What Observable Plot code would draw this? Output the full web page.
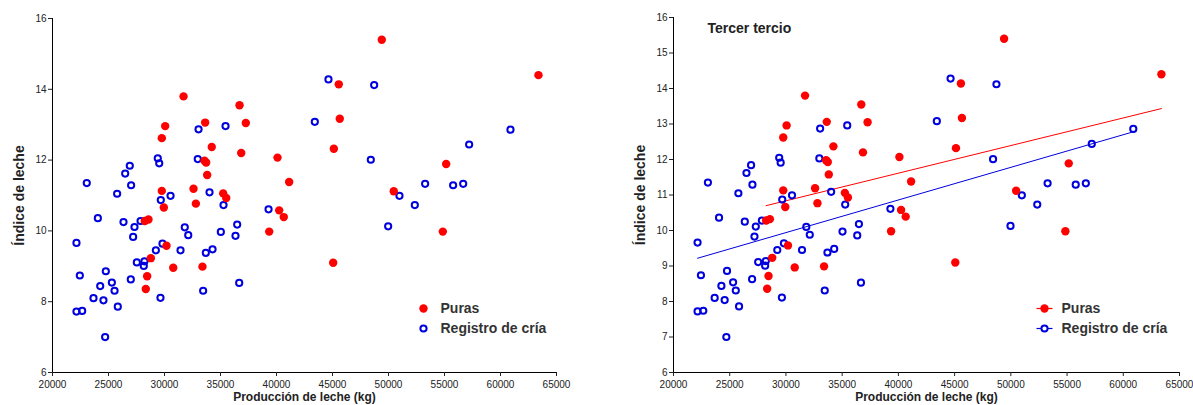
<!DOCTYPE html>
<html>
<head>
<meta charset="utf-8">
<script src="https://cdn.jsdelivr.net/npm/d3@7"></script>
<script src="https://cdn.jsdelivr.net/npm/@observablehq/plot@0.6"></script>
<style>
  html, body { margin: 0; padding: 0; background: #fff; }
  #wrap { display: flex; width: 1193px; height: 405px; }
</style>
</head>
<body>
<div id="wrap"></div>
<script>
// ---- Data ----
const purasX = [31700, 36700, 33630, 37260, 30060, 29760, 34220, 36850, 40090, 33570,
  33720, 33810, 41130, 29760, 32590, 35240, 35510, 49400, 45560, 45650,
  45120, 63390, 55150, 50470, 54850, 45060, 32800, 29940, 28240, 28570,
  30180, 28780, 30780, 33390, 28450, 28330, 39350, 40240, 40650];
const purasY = [13.80, 13.55, 13.06, 13.05, 12.96, 12.62, 12.37, 12.20, 12.07, 11.98,
  11.93, 11.58, 11.38, 11.13, 11.19, 11.06, 10.93, 15.40, 14.14, 13.17,
  12.32, 14.40, 11.89, 11.12, 9.98, 9.10, 10.77, 10.66, 10.28, 10.32,
  9.58, 9.23, 8.96, 8.99, 8.72, 8.36, 9.98, 10.58, 10.39];

const registroX = [33040, 35450, 29400, 29530, 32970, 26900, 26490, 27020, 23060, 25770,
  34020, 30540, 29670, 44640, 48720, 43420, 48420, 60890, 57200, 53270,
  55770, 56670, 50980, 52350, 49970, 39290, 35270, 24050, 26340, 27320,
  27200, 27860, 31810, 32120, 35030, 36490, 36340, 22140, 29820, 29230,
  31430, 33690, 34290, 27530, 28210, 28150, 22440, 24760, 24260, 25300,
  25540, 26990, 36670, 23660, 24550, 29640, 33450, 25830, 22140, 22650, 24700];
const registroY = [12.87, 12.96, 12.05, 11.91, 12.03, 11.84, 11.62, 11.29, 11.35, 11.05,
  11.09, 10.99, 10.87, 14.28, 14.12, 13.08, 12.01, 12.86, 12.44, 11.33,
  11.29, 11.33, 10.99, 10.73, 10.13, 10.61, 10.73, 10.36, 10.25, 10.11,
  9.83, 10.28, 10.10, 9.88, 9.97, 10.18, 9.86, 9.66, 9.64, 9.45,
  9.45, 9.38, 9.48, 9.11, 9.14, 9.01, 8.74, 8.86, 8.44, 8.54,
  8.31, 8.63, 8.53, 8.10, 8.04, 8.11, 8.31, 7.86, 7.72, 7.74, 7.00];

const seriesNames = ["Puras", "Registro de cría"];
const xTicks = [20000, 25000, 30000, 35000, 40000, 45000, 50000, 55000, 60000, 65000];
const yTicksLeft = [6, 8, 10, 12, 14, 16];
const yTicksRight = [6, 7, 8, 9, 10, 11, 12, 13, 14, 15, 16];
const xDomain = [20000, 65000];
const yDomain = [6, 16];
const xLabel = "Producción de leche (kg)";
const yLabel = "Índice de leche";
const rightTitle = "Tercer tercio";

// ---- Build tables ----
const puras = purasX.map((x, i) => ({x, y: purasY[i]}));
const registro = registroX.map((x, i) => ({x, y: registroY[i]}));

const RED = "#ff0000";
const BLUE = "#0000dd";
const FONT = "'Liberation Sans', Arial, Helvetica, sans-serif";

const lineSymbol = {
  draw(ctx) { ctx.moveTo(-8, 0); ctx.lineTo(8, 0); }
};

function panel({width, marginLeft, marginRight, marginTop, yTicks, withLines, title}) {
  const marks = [
    Plot.ruleX([xDomain[0]], {stroke: "#000", strokeWidth: 1}),
    Plot.ruleY([yDomain[0]], {stroke: "#000", strokeWidth: 1}),
    Plot.axisX({ticks: xTicks, tickSize: 4, tickPadding: 4, tickFormat: d => String(d),
      label: null, fontSize: 10, fill: "#222"}),
    Plot.axisY({ticks: yTicks, tickSize: 4, tickPadding: 2, tickFormat: d => String(d),
      label: null, fontSize: 10, fill: "#222"}),
    Plot.text([yLabel], {frameAnchor: "left", rotate: -90, dx: -33, textAnchor: "middle",
      lineAnchor: "middle", fontWeight: "bold", fontSize: 14, fill: "#222"}),
    Plot.text([xLabel], {frameAnchor: "bottom", dy: 25, textAnchor: "middle",
      lineAnchor: "middle", fontWeight: "bold", fontSize: 12, fill: "#222"})
  ];
  if (title) {
    marks.push(Plot.text([title], {frameAnchor: "top-left", dx: 34, dy: 11,
      textAnchor: "start", lineAnchor: "middle", fontWeight: "bold", fontSize: 14, fill: "#222"}));
  }
  if (withLines) {
    marks.push(Plot.linearRegressionY(puras, {x: "x", y: "y", stroke: RED, ci: 0, strokeWidth: 1}));
    marks.push(Plot.linearRegressionY(registro, {x: "x", y: "y", stroke: BLUE, ci: 0, strokeWidth: 1}));
  }
  marks.push(Plot.dot(registro, {x: "x", y: "y", r: 3.1, stroke: BLUE, strokeWidth: 2, fill: "none"}));
  marks.push(Plot.dot(puras, {x: "x", y: "y", r: 4.2, fill: RED}));

  // legend
  const lx = 371, tx = 388, ly1 = -64, ly2 = -44;
  if (withLines) {
    marks.push(Plot.dot([0], {frameAnchor: "bottom-left", dx: lx, dy: ly1, symbol: lineSymbol, stroke: RED, strokeWidth: 1.2, fill: "none"}));
    marks.push(Plot.dot([0], {frameAnchor: "bottom-left", dx: lx, dy: ly2, symbol: lineSymbol, stroke: BLUE, strokeWidth: 1.2, fill: "none"}));
  }
  marks.push(Plot.dot([0], {frameAnchor: "bottom-left", dx: lx, dy: ly1, r: 4.2, fill: RED}));
  marks.push(Plot.dot([0], {frameAnchor: "bottom-left", dx: lx, dy: ly2, r: 3.1, stroke: BLUE, strokeWidth: 2, fill: "white"}));
  marks.push(Plot.text([seriesNames[0]], {frameAnchor: "bottom-left", dx: tx, dy: ly1, textAnchor: "start",
    lineAnchor: "middle", fontWeight: "bold", fontSize: 14, fill: "#333"}));
  marks.push(Plot.text([seriesNames[1]], {frameAnchor: "bottom-left", dx: tx, dy: ly2, textAnchor: "start",
    lineAnchor: "middle", fontWeight: "bold", fontSize: 14, fill: "#333"}));

  return Plot.plot({
    width, height: 405,
    marginLeft, marginRight, marginTop, marginBottom: 33,
    style: {fontFamily: FONT, color: "#222", background: "#fff", overflow: "visible"},
    x: {domain: xDomain},
    y: {domain: yDomain},
    marks
  });
}

const wrap = document.getElementById("wrap");
wrap.appendChild(panel({width: 596, marginLeft: 52, marginRight: 40, marginTop: 18, yTicks: yTicksLeft, withLines: false}));
wrap.appendChild(panel({width: 597, marginLeft: 77, marginRight: 14, marginTop: 17, yTicks: yTicksRight, withLines: true, title: rightTitle}));
</script>
</body>
</html>
